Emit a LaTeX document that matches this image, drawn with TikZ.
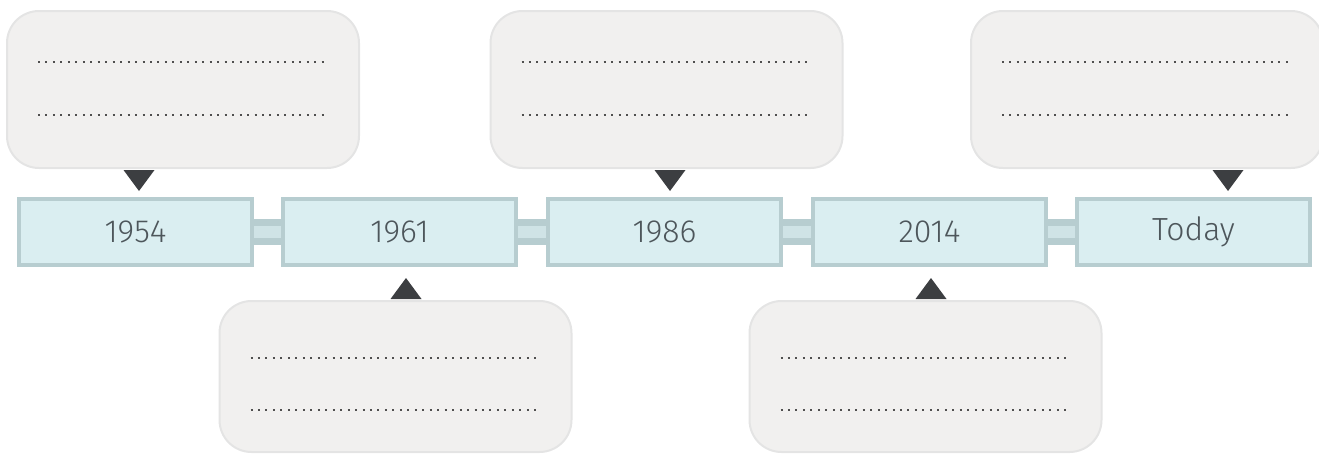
\documentclass[tikz,border=0pt]{standalone}
\usepackage{fontspec}
\setmainfont{Fira Sans}[UprightFont=* Light]
\usetikzlibrary{calc}
\definecolor{notefill}{HTML}{F1F0EF}
\definecolor{noteedge}{HTML}{E4E4E4}
\definecolor{tlfill}{HTML}{DAEEF1}
\definecolor{tledge}{HTML}{B7CDD0}
\definecolor{tlmid}{HTML}{CFE3E6}
\definecolor{tltext}{HTML}{4D565B}
\definecolor{tipgrey}{HTML}{3C3E41}
\definecolor{dotgrey}{HTML}{4F4F4F}
\tikzset{
 notebox/.style={draw=noteedge, line width=1.5pt, fill=notefill, rounded corners=24pt,
   minimum width=264pt, minimum height=117.75pt, inner sep=0pt},
 notebox low/.style={notebox, minimum height=113.25pt},
 yearbox/.style={draw=tledge, line width=3pt, fill=tlfill, minimum width=174.75pt,
   minimum height=49.5pt, inner sep=0pt, text=tltext, font=\fontsize{24}{28}\selectfont},
 tlbar/.style={draw=tledge, double=tlmid, line width=4.9pt, double distance=9pt},
 dotline/.style={draw=dotgrey, line width=1.5pt, dash pattern=on 1.5pt off 4.1pt},
 tipfill/.style={fill=tipgrey}
}
\begin{document}
\begin{tikzpicture}[x=0.75pt, y=-0.75pt]
 \useasboundingbox (0,0) rectangle (1319,454);
 % notes above and below the line
 \node[notebox] (n1) at (183,89.5) {};
 \node[notebox] (n3) at (666.5,89.5) {};
 \node[notebox] (n5) at (1147,89.5) {};
 \node[notebox low] (n2) at (395.5,376.5) {};
 \node[notebox low] (n4) at (925.5,376.5) {};
 \foreach \n in {n1,n3,n5} {
  \draw[dotline] ($(\n.north west)+(32,52)$) -- ($(\n.north east)+(-31,52)$);
  \draw[dotline] ($(\n.north west)+(32,105)$) -- ($(\n.north east)+(-31,105)$);
 }
 \foreach \n in {n2,n4} {
  \draw[dotline] ($(\n.north west)+(32,58)$) -- ($(\n.north east)+(-31,58)$);
  \draw[dotline] ($(\n.north west)+(32,110)$) -- ($(\n.north east)+(-31,110)$);
 }
 % the time line
 \node[yearbox] (y1) at (135.5,232) {1954};
 \node[yearbox] (y2) at (399.5,232) {1961};
 \node[yearbox] (y3) at (664.5,232) {1986};
 \node[yearbox] (y4) at (929.5,232) {2014};
 \node[yearbox] (y5) at (1193.5,232) {Today};
 \draw[tlbar] (y1.east) -- (y2.west);
 \draw[tlbar] (y2.east) -- (y3.west);
 \draw[tlbar] (y3.east) -- (y4.west);
 \draw[tlbar] (y4.east) -- (y5.west);
 % pointers
 \fill[tipfill] (123.5,170) -- (154.5,170) -- (139,191) -- cycle;
 \fill[tipfill] (654.5,170) -- (685.5,170) -- (670,191) -- cycle;
 \fill[tipfill] (1212.5,170) -- (1243.5,170) -- (1228,191) -- cycle;
 \fill[tipfill] (390.5,299) -- (421.5,299) -- (406,278) -- cycle;
 \fill[tipfill] (915.5,299) -- (946.5,299) -- (931,278) -- cycle;
\end{tikzpicture}
\end{document}
